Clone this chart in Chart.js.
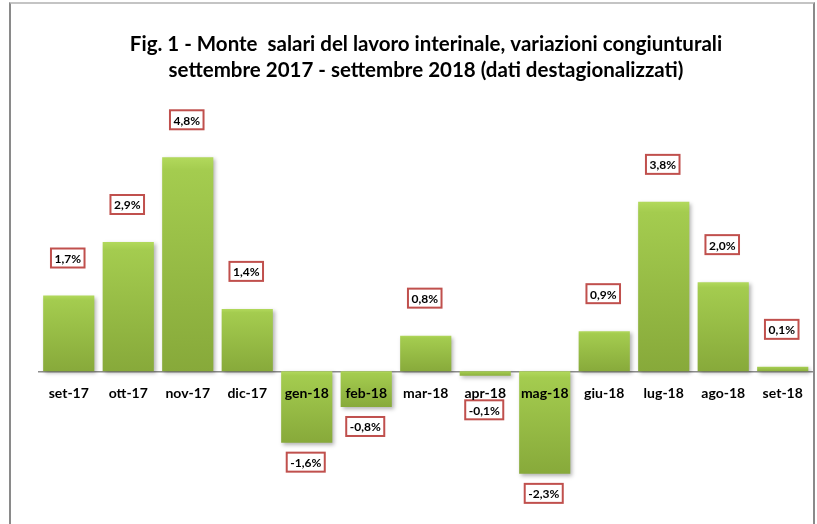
<!DOCTYPE html>
<html>
<head>
<meta charset="utf-8">
<script src="https://cdn.jsdelivr.net/npm/chart.js@4/dist/chart.umd.min.js"></script>
<style>
  body { margin: 0; background: #fff; }
  #wrap { position: relative; width: 817px; height: 524px; overflow: hidden; }
  #frame {
    position: absolute; left: 9px; top: 2px; width: 802px; height: 560px;
    border-left: 2px solid #8a8a8a; border-right: 2px solid #8a8a8a; border-top: 2px solid #c4c4c4;
  }
  canvas { position: absolute; left: 0; top: 0; }
</style>
</head>
<body>
<div id="wrap">
  <div id="frame"></div>
  <canvas id="chartSalari" width="817" height="524"></canvas>
</div>
<script>
// Monte salari lavoro interinale - variazioni congiunturali (%)
const mesi = ['set-17', 'ott-17', 'nov-17', 'dic-17', 'gen-18', 'feb-18', 'mar-18', 'apr-18', 'mag-18', 'giu-18', 'lug-18', 'ago-18', 'set-18'];
const variazioni = [1.7, 2.9, 4.8, 1.4, -1.6, -0.8, 0.8, -0.1, -2.3, 0.9, 3.8, 2.0, 0.1];
const titolo = [
    'Fig. 1 - Monte  salari del lavoro interinale, variazioni congiunturali',
    'settembre 2017 - settembre 2018 (dati destagionalizzati)'
];

const FONT = 'Lato, "Open Sans", sans-serif';

const fmt = v => v.toFixed(1).replace('.', ',') + '%';

// gradient + shadow for each bar, like the excel bevel
const barStyle = {
    id: 'barStyle',
    beforeDatasetDraw(chart) {
        const ctx = chart.ctx;
        chart.getDatasetMeta(0).data.forEach(bar => {
            const top = Math.min(bar.y, bar.base);
            const bottom = Math.max(bar.y, bar.base);
            const g = ctx.createLinearGradient(0, top, 0, bottom + 1);
            g.addColorStop(0, '#b2d95c');
            g.addColorStop(0.06, '#a4cc4f');
            g.addColorStop(1, '#87a93a');
            // options can be shared between bars, so give each its own copy
            bar.options = Object.assign({}, bar.options, { backgroundColor: g });
        });
        ctx.save();
        ctx.shadowColor = 'rgba(0,0,0,0.3)';
        ctx.shadowBlur = 4;
        ctx.shadowOffsetX = 2;
        ctx.shadowOffsetY = 2;
    },
    afterDatasetDraw(chart) {
        chart.ctx.restore();
    }
};

// boxed value labels
const boxLabels = {
    id: 'boxLabels',
    afterDatasetsDraw(chart) {
        const ctx = chart.ctx;
        const zero = chart.scales.y.getPixelForValue(0);
        ctx.save();
        ctx.font = 'bold 12px ' + FONT;
        ctx.textAlign = 'center';
        ctx.textBaseline = 'middle';
        chart.getDatasetMeta(0).data.forEach((bar, i) => {
            const v = variazioni[i];
            const txt = fmt(v);
            const w = ctx.measureText(txt).width + 7;
            const h = 19;
            let cy;
            if (v >= 0) {
                cy = bar.y - 28 - h / 2;
            } else {
                cy = Math.max(bar.y + 10, zero + 29) + h / 2;
            }
            const x = bar.x - 1;
            ctx.fillStyle = '#fff';
            ctx.fillRect(x - w / 2, cy - h / 2, w, h);
            ctx.strokeStyle = '#c0504d';
            ctx.lineWidth = 2;
            ctx.strokeRect(x - w / 2, cy - h / 2, w, h);
            ctx.fillStyle = '#000';
            ctx.fillText(txt, x, cy + 1);
        });
        ctx.restore();
    }
};

new Chart(document.getElementById('chartSalari').getContext('2d'), {
    type: 'bar',
    data: {
        labels: mesi,
        datasets: [{
            data: variazioni,
            backgroundColor: '#9dc24b',
            borderWidth: 0,
            categoryPercentage: 1,
            barPercentage: 0.86
        }]
    },
    options: {
        responsive: false,
        animation: false,
        layout: {
            padding: { left: 39, right: 4, top: 0, bottom: 10 }
        },
        plugins: {
            legend: { display: false },
            tooltip: { enabled: false },
            title: {
                display: true,
                text: titolo,
                color: '#000',
                font: { family: FONT, size: 20.5, weight: 'bold', lineHeight: 1.27 },
                padding: { top: 31, bottom: 43 }
            }
        },
        scales: {
            x: {
                position: { y: 0 },
                grid: { display: false, drawTicks: false },
                border: { display: true, color: '#8c8c8c', width: 1.5 },
                ticks: {
                    z: 1,
                    color: '#000',
                    padding: 14,
                    maxRotation: 0,
                    autoSkip: false,
                    font: { family: FONT, size: 14, weight: 'bold' }
                }
            },
            y: {
                display: false,
                min: -3.2,
                max: 5.5
            }
        }
    },
    plugins: [barStyle, boxLabels]
});
</script>
</body>
</html>
